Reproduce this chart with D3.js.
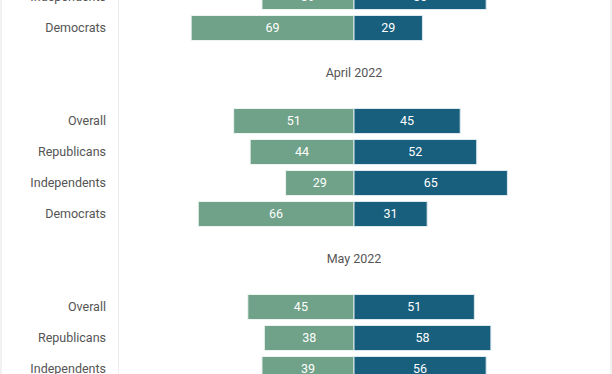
<!DOCTYPE html>
<html>
<head>
<meta charset="utf-8">
<script src="https://cdn.jsdelivr.net/npm/d3@7"></script>
<style>
  body { margin: 0; background: #fff; overflow: hidden; }
  text { font-family: Roboto, "Noto Sans", sans-serif; }
</style>
</head>
<body>
<script>
const width = 612;
const height = 374;

// rows visible in the crop, top to bottom
const rowLabels = ['Independents', 'Democrats',
  'Overall', 'Republicans', 'Independents', 'Democrats',
  'Overall', 'Republicans', 'Independents'];
const greenValues = [39, 69, 51, 44, 29, 66, 45, 38, 39];
const blueValues = [56, 29, 45, 52, 65, 31, 51, 58, 56];
// header titles and the row index they sit above
const headers = ['April 2022', 'May 2022'];
const headerBefore = [2, 6];

const green = '#6fa288';
const blue = '#185e7d';

// slot positions: each header takes two extra row slots
let slots = [];
let headerSlots = [];
let s = 0;
rowLabels.forEach((d, i) => {
  let h = headerBefore.indexOf(i);
  if (h >= 0) {
    headerSlots.push(s + 0.45);
    s += 2;
  }
  slots.push(s);
  s += 1;
});

const y = d3.scaleLinear().domain([0, 1]).range([-3, 28]);
const x = d3.scaleLinear().domain([-100, 100]).range([118, 590]);
const barH = 25;

let svg = d3.select('body').append('svg')
  .attr('width', width)
  .attr('height', height);

// frame
svg.append('line')
  .attr('x1', 1).attr('x2', 1).attr('y1', 0).attr('y2', height)
  .style('stroke', '#e3e3e3').style('stroke-width', 1);
svg.append('line')
  .attr('x1', 611).attr('x2', 611).attr('y1', 0).attr('y2', height)
  .style('stroke', '#e3e3e3').style('stroke-width', 1);
svg.append('line')
  .attr('x1', x(-100) + 0.5).attr('x2', x(-100) + 0.5).attr('y1', 0).attr('y2', height)
  .style('stroke', '#ececec').style('stroke-width', 1);

let rows = svg.selectAll('.row')
  .data(rowLabels.map((d, i) => ({ label: d, g: greenValues[i], b: blueValues[i], slot: slots[i] })))
  .enter().append('g')
  .attr('class', 'row')
  .attr('transform', d => 'translate(0,' + y(d.slot) + ')');

rows.append('text')
  .attr('x', 106)
  .attr('dy', '0.35em')
  .attr('text-anchor', 'end')
  .style('font-size', '12.5px')
  .style('fill', '#555')
  .text(d => d.label);

rows.append('rect')
  .attr('x', d => x(-d.g))
  .attr('y', -barH / 2)
  .attr('width', d => x(0) - x(-d.g))
  .attr('height', barH)
  .style('fill', green)
  .style('stroke', '#eef4f2')
  .style('stroke-width', 1);

rows.append('rect')
  .attr('x', x(0))
  .attr('y', -barH / 2)
  .attr('width', d => x(d.b) - x(0))
  .attr('height', barH)
  .style('fill', blue)
  .style('stroke', '#dde9ee')
  .style('stroke-width', 1);

rows.append('text')
  .attr('x', d => (x(-d.g) + x(0)) / 2)
  .attr('dy', '0.35em')
  .attr('text-anchor', 'middle')
  .style('font-size', '12.5px')
  .style('fill', '#fff')
  .text(d => d.g);

rows.append('text')
  .attr('x', d => (x(d.b) + x(0)) / 2)
  .attr('dy', '0.35em')
  .attr('text-anchor', 'middle')
  .style('font-size', '12.5px')
  .style('fill', '#fff')
  .text(d => d.b);

svg.selectAll('.header')
  .data(headers)
  .enter().append('text')
  .attr('class', 'header')
  .attr('x', x(0))
  .attr('y', (d, i) => y(headerSlots[i]))
  .attr('dy', '0.35em')
  .attr('text-anchor', 'middle')
  .style('font-size', '12.5px')
  .style('fill', '#555')
  .text(d => d);
</script>
</body>
</html>
